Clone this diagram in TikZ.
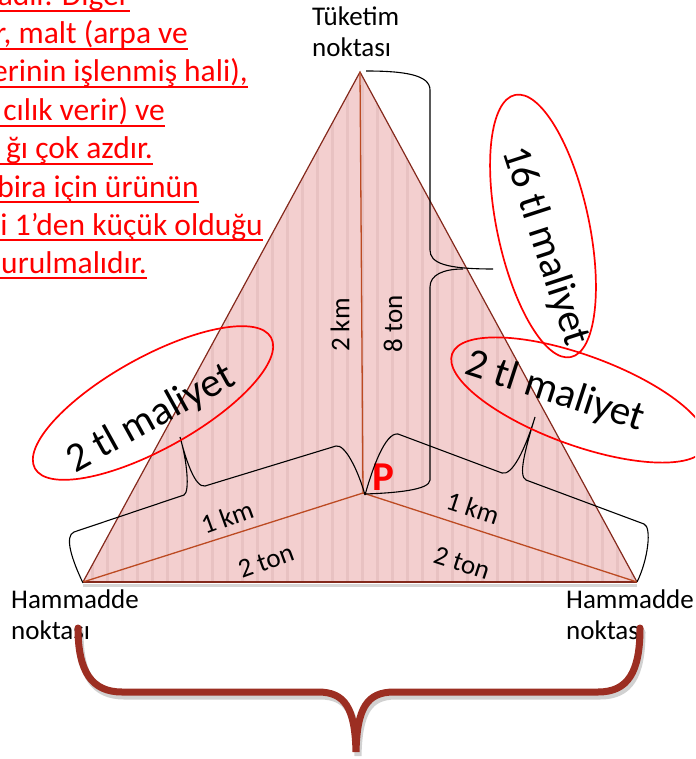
\documentclass[tikz,border=0pt]{standalone}
\usepackage{fontspec}
\setmainfont{Carlito}
\usetikzlibrary{shapes.geometric}

\definecolor{trifill}{HTML}{F3CFCF}
\definecolor{tristripe}{HTML}{E8C2C2}
\definecolor{triedge}{HTML}{84291C}
\definecolor{innerline}{HTML}{BC4A22}
\definecolor{bracered}{HTML}{9C2E22}

\begin{document}
\begin{tikzpicture}[
  x=1pt, y=-1pt,
  font=\fontsize{27}{31}\selectfont,
  lbl/.style={inner sep=0pt},
  cost/.style={inner sep=0pt, font=\fontsize{41}{48}\selectfont},
  costring/.style={ellipse, draw=red, line width=1.7pt, inner sep=0pt},
  brc/.style={draw=black, line width=1.1pt},
  redtxt/.style={inner sep=0pt, text=red, font=\fontsize{31.5}{37}\selectfont},
  uline/.style={red, line width=1.6pt},
  braceshadow/.style={black, opacity=.18, line width=7pt, line cap=round, shift={(2,4)}},
  bracemain/.style={bracered, line width=7pt, line cap=round},
]
\useasboundingbox (0,0) rectangle (695,759);
\clip (0,0) rectangle (695,759);

% red note, cut at the left border
\foreach \txt/\xe/\yb [count=\i] in {%
  {adır. Diğer}/130/6,
  {r, malt (arpa ve}/188/44,
  {erinin işlenmiş hali),}/248/82,
  {cılık verir) ve}/165/121,
  {ğı çok azdır.}/153/159,
  {bira için ürünün}/199/197,
  {i 1’den küçük olduğu}/263/235,
  {urulmalıdır.}/147/273} {
  \node[redtxt, anchor=base east] (note\i) at (\xe,\yb) {\txt};
  \draw[uline] (-2,\yb+5) -- (\xe,\yb+5);
}

% corners of the triangle
\coordinate (top) at (360,72);
\coordinate (hl) at (83,582);
\coordinate (hr) at (637,582);
\coordinate (P) at (363,493);

% striped triangle
\fill[trifill] (top) -- (hl) -- (hr) -- cycle;
\begin{scope}
  \clip (top) -- (hl) -- (hr) -- cycle;
  \foreach \x in {0,15,...,690}
    \fill[tristripe] (\x+1,60) rectangle ++(3,530);
\end{scope}
\draw[black!40, opacity=.4, line width=3pt] ([yshift=-3pt]hl) -- ([yshift=-3pt]hr);
\draw[triedge, line width=1.2pt] (hl) -- (top) -- (hr);
\draw[triedge, line width=2.4pt] (hl) -- (hr);
\draw[innerline, line width=1.3pt] (top) -- (P) (hl) -- (P) -- (hr);

% place labels
\node[lbl, align=left, anchor=north west] (tuk) at (312,7) {Tüketim\\noktası};
\node[lbl, align=left, anchor=north west] (haml) at (11,590) {Hammadde\\noktası};
\node[lbl, align=left, anchor=north west] (hamr) at (566,590) {Hammadde\\noktası};

% distances and loads
\node[lbl, rotate=90] (km2) at (340,325) {2 km};
\node[lbl, rotate=90] (ton8) at (393,324) {8 ton};
\node[lbl, rotate=20] (kml) at (227,517) {1 km};
\node[lbl, rotate=20] (tonl) at (266,561) {2 ton};
\node[lbl, rotate=-18] (kmr) at (473,508) {1 km};
\node[lbl, rotate=-18] (tonr) at (462,563) {2 ton};
\node[lbl, text=red, font=\fontsize{41}{48}\selectfont\bfseries] (plbl) at (383,477) {P};

% braces
\draw[brc] (366,71) .. controls (405,71) and (430,75) .. (430,90) -- (430,250)
  .. controls (430,263) and (445,269) .. (493,269);
\draw[brc] (463,269) .. controls (443,269) and (430,275) .. (430,287) -- (430,480)
  .. controls (430,490) and (395,493) .. (365,494);
\draw[brc] (83,583) .. controls (72,560) and (64,536) .. (74,532) -- (184,495)
  .. controls (190,492) and (187,460) .. (180,437)
  .. controls (186,460) and (195,488) .. (205,486) -- (336,446)
  .. controls (345,444) and (358,470) .. (365,495);
\draw[brc] (365,495) .. controls (372,470) and (385,432) .. (398,434) -- (502,473)
  .. controls (512,476) and (525,450) .. (535,417)
  .. controls (525,450) and (518,476) .. (526,480) -- (644,524)
  .. controls (652,527) and (648,560) .. (637,582);

% cost rings
\node[costring, minimum width=270pt, minimum height=92pt, rotate=29] (ringl) at (153,403) {};
\node[cost, rotate=29] (costl) at (151,419) {2 tl maliyet};
\node[costring, minimum width=270pt, minimum height=90pt, rotate=-20] (ringr) at (579,400) {};
\node[cost, rotate=-18] (costr) at (555,392) {2 tl maliyet};
\node[costring, minimum width=268pt, minimum height=92pt, rotate=-78] (ringt) at (543,226) {};
\node[cost, rotate=-72] (costt) at (545,246) {16 tl maliyet};

% big brace under the raw material points
\foreach \sty in {braceshadow, bracemain}
  \draw[\sty] (78,628) .. controls (78,672) and (92,692) .. (122,692) -- (318,692)
    .. controls (345,692) and (355,708) .. (356,752)
    .. controls (357,708) and (367,692) .. (394,692) -- (598,692)
    .. controls (628,692) and (640,672) .. (640,628);
\end{tikzpicture}
\end{document}
